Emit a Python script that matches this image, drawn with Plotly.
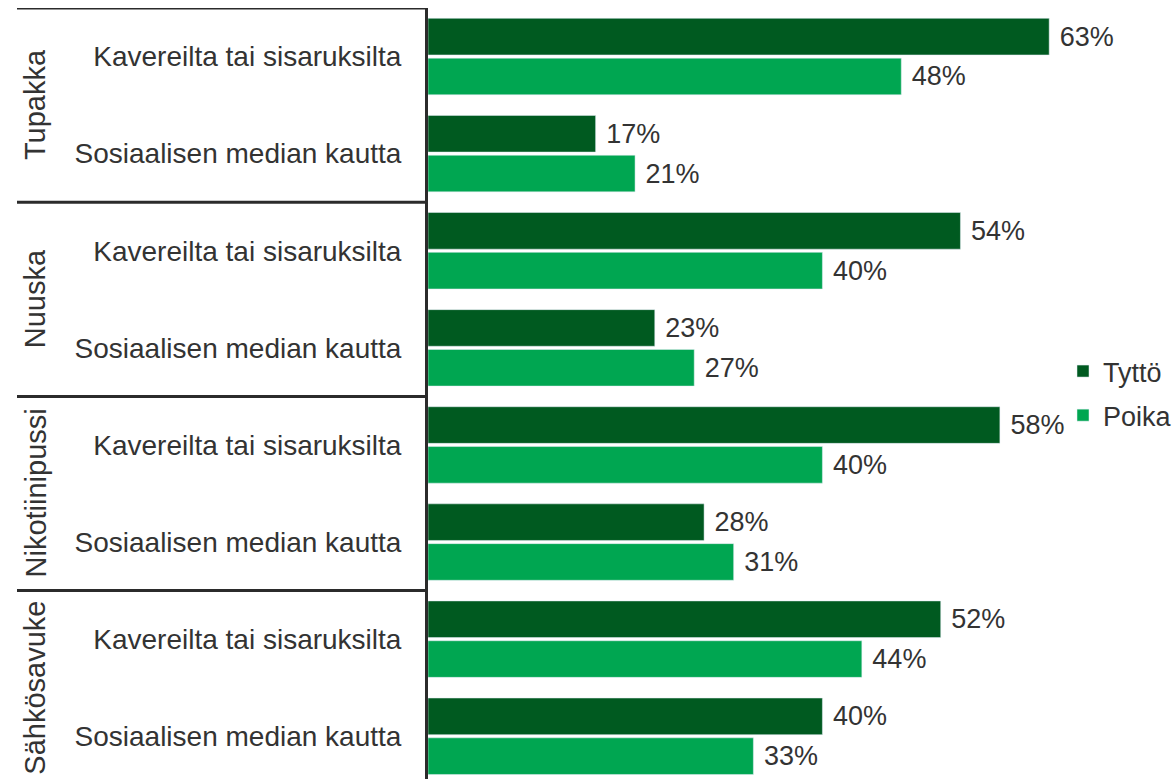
import plotly.graph_objects as go

groups = ["Tupakka", "Nuuska", "Nikotiinipussi", "Sähkösavuke"]
subcats = ["Kavereilta tai sisaruksilta", "Sosiaalisen median kautta"]
categories = [s for g in groups for s in subcats]
tytto = [63, 17, 54, 23, 58, 28, 52, 40]
poika = [48, 21, 40, 27, 40, 31, 44, 33]

positions = list(range(len(categories)))
FONT = "Liberation Sans, Arial, sans-serif"
TXT = "#333333"
LINE = "#2b2b2b"

fig = go.Figure()
fig.add_trace(go.Bar(
    name="Tyttö", y=positions, x=tytto, orientation="h",
    marker_color="#005A20", legendgroup="t",
    text=[f"\u00a0{v}%" for v in tytto], textposition="outside",
    outsidetextfont=dict(family=FONT, size=27, color=TXT), cliponaxis=False,
))
fig.add_trace(go.Bar(
    name="Poika", y=positions, x=poika, orientation="h",
    marker_color="#00A651", legendgroup="p",
    text=[f"\u00a0{v}%" for v in poika], textposition="outside",
    outsidetextfont=dict(family=FONT, size=27, color=TXT), cliponaxis=False,
))

L, R, T = 428, 1062, 8
W = R - L
H = 779 - T
cat_px = 97.1
bottom_val = -0.5 + H / cat_px

shapes = []
for i in range(len(groups)):
    yv = i * 2 - 0.5
    shapes.append(dict(type="line", xref="paper", yref="y",
                       x0=(17 - L) / W, x1=0, y0=yv, y1=yv,
                       line=dict(color=LINE, width=3)))

annotations = []
for i, g in enumerate(groups):
    annotations.append(dict(text=g, xref="paper", yref="y",
                            x=(35 - L) / W, y=i * 2 + 0.5, textangle=-90,
                            showarrow=False, xanchor="center", yanchor="middle",
                            font=dict(family=FONT, size=29, color=TXT)))

fig.update_layout(
    width=1172, height=779,
    margin=dict(l=L, r=1172 - R, t=T, b=0, autoexpand=False),
    barmode="group", bargap=0.18, bargroupgap=0.08,
    plot_bgcolor="white", paper_bgcolor="white",
    font=dict(family=FONT, size=27, color=TXT),
    xaxis=dict(range=[0, 64.3], visible=False, fixedrange=True),
    yaxis=dict(range=[bottom_val, -0.5], tickmode="array", tickvals=positions,
               ticktext=categories, showline=True, linecolor=LINE, linewidth=3,
               showgrid=False, zeroline=False, ticks="", ticklabelstandoff=18,
               tickfont=dict(family=FONT, size=28, color=TXT), automargin=False,
               fixedrange=True),
    legend=dict(x=(1063 - L) / W, xanchor="left", y=(779 - 347) / H, yanchor="top",
                font=dict(family=FONT, size=27, color=TXT), tracegroupgap=6,
                bgcolor="rgba(0,0,0,0)"),
    shapes=shapes, annotations=annotations,
    hovermode=False,
)
fig.write_html("out.html")
